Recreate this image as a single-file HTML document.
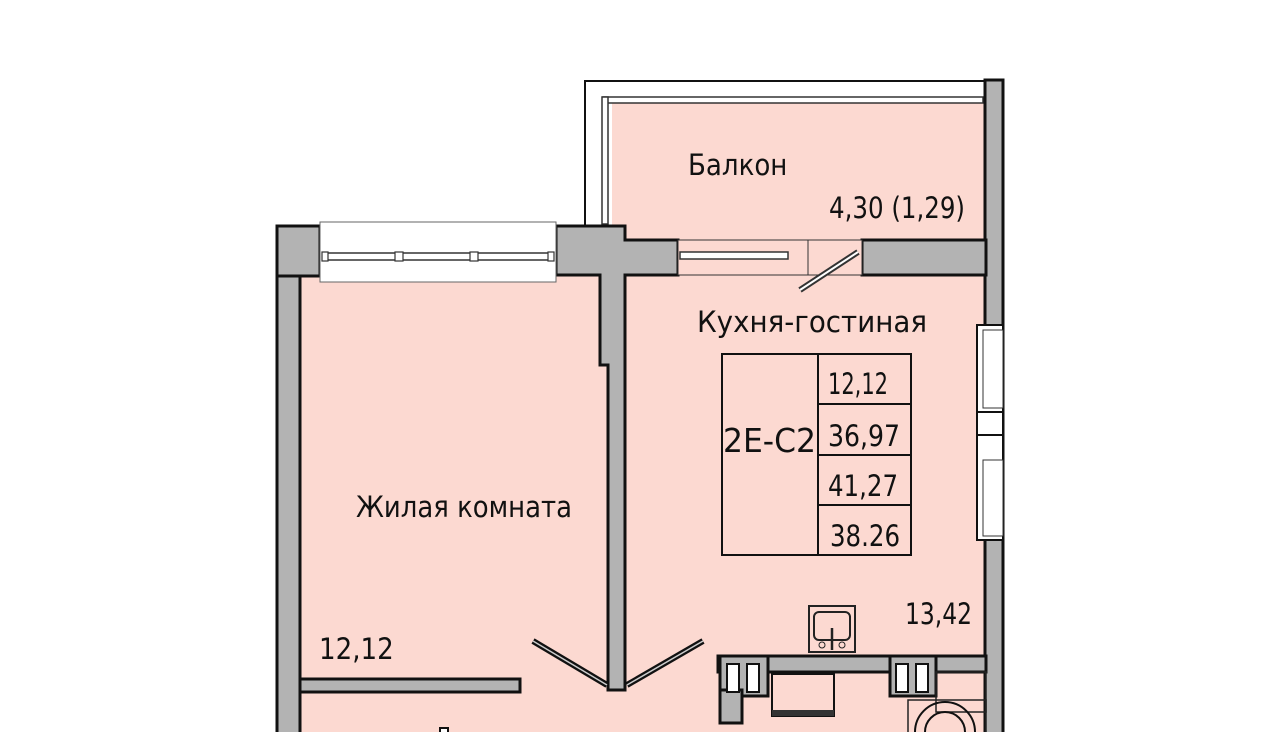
<!DOCTYPE html>
<html><head><meta charset="utf-8"><style>
html,body{margin:0;padding:0;background:#fff;width:1280px;height:732px;overflow:hidden}
svg{display:block}
text{font-family:"DejaVu Sans Condensed","Liberation Sans",sans-serif;fill:#111}
</style></head><body>
<svg width="1280" height="732" viewBox="0 0 1280 732" xmlns="http://www.w3.org/2000/svg">
<g fill="#fcd9d1">
<rect x="612" y="103" width="374" height="140"/>
<rect x="300" y="275" width="310" height="457"/>
<rect x="610" y="275" width="376" height="457"/>
<rect x="678" y="240" width="185" height="36"/>
</g>
<path d="M585 238 V81 H990" fill="none" stroke="#111" stroke-width="2"/>
<rect x="603" y="97" width="380" height="6" fill="#fff" stroke="#333" stroke-width="1.5"/>
<rect x="602" y="97" width="6" height="127" fill="#fff" stroke="#333" stroke-width="1.5"/>
<g fill="#b3b3b3" stroke="#111" stroke-width="3">
<rect x="985" y="80" width="18" height="660"/>
<rect x="277" y="226" width="23" height="520"/>
<rect x="277" y="226" width="43" height="50"/>
<path d="M556 226 H625 V240 H678 V275 H625 V690 H608 V365 H600 V275 H556 Z"/>
<rect x="862" y="240" width="124" height="35"/>
<rect x="300" y="679" width="220" height="13"/>
<rect x="718" y="656" width="268" height="16"/>
<rect x="720" y="656" width="48" height="40"/>
<rect x="890" y="656" width="46" height="40"/>
<rect x="720" y="690" width="22" height="33"/>
</g>
<rect x="320" y="222" width="236" height="60" fill="#fff" stroke="#666" stroke-width="1"/>
<rect x="323" y="253" width="230" height="7" fill="#fff" stroke="#333" stroke-width="1.5"/>
<g fill="#fff" stroke="#333" stroke-width="1.2"><rect x="322" y="252" width="6" height="9"/><rect x="395" y="252" width="8" height="9"/><rect x="470" y="252" width="8" height="9"/><rect x="548" y="252" width="6" height="9"/></g>
<rect x="678" y="240" width="184" height="35" fill="#fcd9d1" stroke="#333" stroke-width="1"/>
<line x1="808" y1="240" x2="808" y2="275" stroke="#333"/>
<rect x="680" y="252" width="108" height="7" fill="#fff" stroke="#333" stroke-width="1.5"/>
<line x1="800" y1="290" x2="858" y2="252" stroke="#333" stroke-width="6"/>
<line x1="800" y1="290" x2="858" y2="252" stroke="#fff" stroke-width="2"/>
<rect x="977" y="325" width="26" height="215" fill="#fff" stroke="#111" stroke-width="2"/>
<line x1="977" y1="412" x2="1003" y2="412" stroke="#111" stroke-width="2"/>
<line x1="977" y1="435" x2="1003" y2="435" stroke="#111" stroke-width="2"/>
<rect x="983" y="330" width="20" height="78" fill="#fff" stroke="#333"/>
<rect x="983" y="460" width="20" height="76" fill="#fff" stroke="#333"/>
<g stroke="#111" stroke-width="6"><line x1="533" y1="641" x2="607" y2="685"/><line x1="703" y1="641" x2="627" y2="685"/></g>
<g stroke="#ccc" stroke-width="1.5"><line x1="533" y1="641" x2="607" y2="685"/><line x1="703" y1="641" x2="627" y2="685"/></g>
<rect x="809" y="606" width="46" height="46" fill="none" stroke="#222" stroke-width="2"/>
<rect x="814" y="612" width="36" height="28" rx="5" fill="none" stroke="#222" stroke-width="2"/>
<line x1="832" y1="628" x2="832" y2="650" stroke="#222" stroke-width="2.5"/>
<circle cx="822" cy="645" r="3" fill="none" stroke="#222"/><circle cx="842" cy="645" r="3" fill="none" stroke="#222"/>
<g fill="#fff" stroke="#111" stroke-width="2">
<rect x="727" y="664" width="12" height="28"/><rect x="747" y="664" width="12" height="28"/>
<rect x="896" y="664" width="12" height="28"/><rect x="916" y="664" width="12" height="28"/>
</g>
<rect x="772" y="674" width="62" height="42" fill="none" stroke="#111" stroke-width="2"/>
<rect x="772" y="710" width="62" height="6" fill="#333"/>
<rect x="936" y="672" width="50" height="40" fill="none" stroke="#222" stroke-width="1.5"/>
<rect x="908" y="700" width="78" height="40" fill="none" stroke="#222" stroke-width="1.5"/>
<circle cx="945" cy="732" r="30" fill="none" stroke="#111" stroke-width="2"/>
<circle cx="945" cy="732" r="20" fill="none" stroke="#111" stroke-width="2"/>
<rect x="440" y="728" width="8" height="10" fill="#fff" stroke="#111" stroke-width="2"/>
<g fill="none" stroke="#111" stroke-width="2">
<rect x="722" y="354" width="189" height="201"/>
<line x1="818" y1="354" x2="818" y2="555"/>
<line x1="818" y1="404" x2="911" y2="404"/>
<line x1="818" y1="455" x2="911" y2="455"/>
<line x1="818" y1="505" x2="911" y2="505"/>
</g>
<g font-size="29">
<text x="688" y="175">Балкон</text>
<text x="829" y="218" textLength="136" lengthAdjust="spacingAndGlyphs">4,30 (1,29)</text>
<text x="697" y="332" textLength="230" lengthAdjust="spacingAndGlyphs">Кухня-гостиная</text>
<text x="356" y="517" textLength="216" lengthAdjust="spacingAndGlyphs">Жилая комната</text>
<text x="319" y="659">12,12</text>
<text x="905" y="624" textLength="67" lengthAdjust="spacingAndGlyphs">13,42</text>
<text x="828" y="394" textLength="60" lengthAdjust="spacingAndGlyphs">12,12</text>
<text x="828" y="446" textLength="72" lengthAdjust="spacingAndGlyphs">36,97</text>
<text x="828" y="496" textLength="70" lengthAdjust="spacingAndGlyphs">41,27</text>
<text x="830" y="546" textLength="70" lengthAdjust="spacingAndGlyphs">38.26</text>
<text x="723" y="452" font-size="33" textLength="93" lengthAdjust="spacingAndGlyphs">2E-C2</text>
</g>
</svg>
</body></html>
